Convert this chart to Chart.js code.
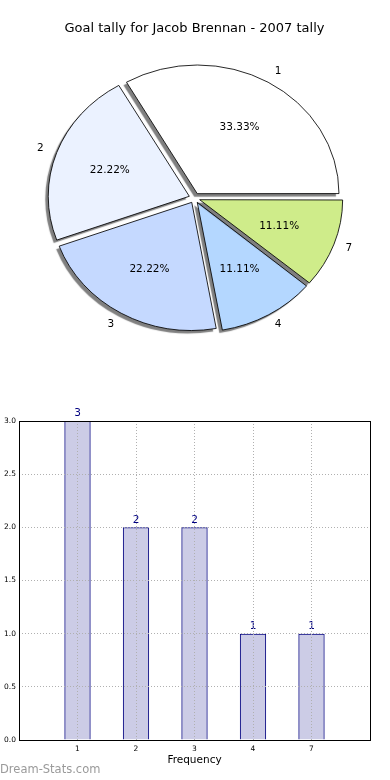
<!DOCTYPE html>
<html>
<head>
<meta charset="utf-8">
<script src="https://cdn.jsdelivr.net/npm/chart.js@4/dist/chart.umd.min.js"></script>
<style>
  body { margin: 0; background: #fff; width: 390px; height: 780px; position: relative; overflow: hidden; font-family: "DejaVu Sans", sans-serif; }
  #pieBox { position: absolute; left: 0; top: 0; }
  #barBox { position: absolute; left: 0; top: 380px; }
  #marca { position: absolute; left: 0; top: 762px; font-size: 11.5px; color: #9a9a9a; }
</style>
</head>
<body>
<div id="pieBox"><canvas id="pieChart" width="390" height="380"></canvas></div>
<div id="barBox"><canvas id="barChart" width="390" height="400"></canvas></div>
<div id="marca">Dream-Stats.com</div>
<script>
// dados
const categorias = ['1', '2', '3', '4', '7']
const golos = [3, 2, 2, 1, 1]
const coresPie = ['#ffffff', '#ebf2ff', '#c5d9ff', '#b4d7ff', '#cfec8a']
const titulo = 'Goal tally for Jacob Brennan - 2007 tally'
const xTitulo = 'Frequency'

Chart.defaults.font.family = '"DejaVu Sans", sans-serif'
Chart.defaults.color = '#000'

const esticaX = 141 / 128
const raio = 128
const total = golos.reduce((a, b) => a + b, 0)

// deixa a pizza oval, espelhada (anti-horário) e com sombra só no preenchimento
const pizzaPlugin = {
    id: 'pizza',
    beforeDatasetsDraw(chart) {
        const arc = chart.getDatasetMeta(0).data[0]
        const ctx = chart.ctx
        ctx.save()
        ctx.translate(arc.x, arc.y)
        ctx.scale(esticaX, -1)
        ctx.translate(-arc.x, -arc.y)
        ctx.shadowColor = 'rgba(0,0,0,0.5)'
        ctx.shadowOffsetX = -3
        ctx.shadowOffsetY = 3
        ctx.shadowBlur = 1
        // contorno sem sombra
        ctx.stroke = function (...args) {
            const sc = this.shadowColor
            this.shadowColor = 'rgba(0,0,0,0)'
            CanvasRenderingContext2D.prototype.stroke.apply(this, args)
            this.shadowColor = sc
        }
    },
    afterDatasetsDraw(chart) {
        const ctx = chart.ctx
        delete ctx.stroke
        ctx.restore()
        ctx.save()
        ctx.font = '10.5px "DejaVu Sans"'
        ctx.fillStyle = '#000'
        ctx.textBaseline = 'middle'
        chart.getDatasetMeta(0).data.forEach((arc, i) => {
            const meio = (arc.startAngle + arc.endAngle) / 2
            const off = (arc.options.offset || 0) / 4
            const c = Math.cos(meio), s = Math.sin(meio)
            // rótulo de fora
            let r = raio * 1.1 + off
            ctx.textAlign = c > 0 ? 'left' : 'right'
            ctx.fillText(categorias[i], arc.x + esticaX * r * c, arc.y - r * s)
            // porcentagem
            r = raio * 0.6 + off
            ctx.textAlign = 'center'
            ctx.fillText((golos[i] / total * 100).toFixed(2) + '%', arc.x + esticaX * r * c, arc.y - r * s)
        })
        ctx.restore()
    }
}

new Chart(document.getElementById('pieChart'), {
    type: 'pie',
    data: {
        labels: categorias,
        datasets: [{
            data: golos,
            backgroundColor: coresPie,
            borderColor: '#000',
            borderWidth: 0.8,
            offset: 20
        }]
    },
    options: {
        responsive: false,
        animation: false,
        devicePixelRatio: 1,
        rotation: 90,
        radius: raio,
        layout: { padding: { left: 0, right: 1, top: 0, bottom: 23.6 } },
        plugins: {
            legend: { display: false },
            tooltip: { enabled: false },
            title: {
                display: true,
                text: titulo,
                font: { size: 13, weight: 'normal', lineHeight: 1.2 },
                color: '#000',
                padding: { top: 21, bottom: 3 }
            }
        }
    },
    plugins: [pizzaPlugin]
})

// caixa em volta do gráfico e números em cima das barras
const caixaPlugin = {
    id: 'caixa',
    afterDatasetsDraw(chart) {
        const ctx = chart.ctx
        ctx.save()
        ctx.font = '10.5px "DejaVu Sans"'
        ctx.fillStyle = '#000080'
        ctx.textAlign = 'center'
        ctx.textBaseline = 'bottom'
        chart.getDatasetMeta(0).data.forEach((bar, i) => {
            ctx.fillText(String(golos[i]), bar.x, bar.y - 2)
        })
        ctx.restore()
    },
    afterDraw(chart) {
        const a = chart.chartArea
        const ctx = chart.ctx
        ctx.save()
        ctx.strokeStyle = '#000'
        ctx.lineWidth = 1
        ctx.strokeRect(Math.round(a.left) + 0.5, Math.round(a.top) + 0.5, Math.round(a.right - a.left), Math.round(a.bottom - a.top))
        ctx.restore()
    }
}

new Chart(document.getElementById('barChart'), {
    type: 'bar',
    data: {
        datasets: [{
            data: golos.map((v, i) => ({ x: i + 1, y: v })),
            backgroundColor: 'rgba(0,0,128,0.2)',
            borderColor: '#000080',
            borderWidth: 1,
            barPercentage: 0.45,
            categoryPercentage: 1
        }]
    },
    options: {
        responsive: false,
        animation: false,
        devicePixelRatio: 1,
        layout: { padding: { left: 0, right: 20, top: 41, bottom: 0 } },
        plugins: { legend: { display: false }, tooltip: { enabled: false } },
        scales: {
            x: {
                type: 'linear',
                offset: false,
                min: 0,
                max: 6,
                ticks: {
                    stepSize: 1,
                    padding: 5,
                    font: { size: 7.5 },
                    callback: (v) => categorias[v - 1] || ''
                },
                grid: { color: '#b0b0b0', drawTicks: false, offset: false, z: 1 },
                border: { display: false, dash: [1, 2] },
                title: {
                    display: true,
                    text: xTitulo,
                    font: { size: 10.5, lineHeight: 1.2 },
                    padding: { top: 0, bottom: 13.7 }
                },
                afterFit: (s) => { s.height = 40 }
            },
            y: {
                min: 0,
                max: 3,
                ticks: {
                    stepSize: 0.5,
                    padding: 3,
                    font: { size: 7.5 },
                    callback: (v) => v.toFixed(1)
                },
                grid: { color: '#b0b0b0', drawTicks: false, z: 1 },
                border: { display: false, dash: [1, 2] },
                afterFit: (s) => { s.width = 19 }
            }
        }
    },
    plugins: [caixaPlugin]
})
</script>
</body>
</html>
